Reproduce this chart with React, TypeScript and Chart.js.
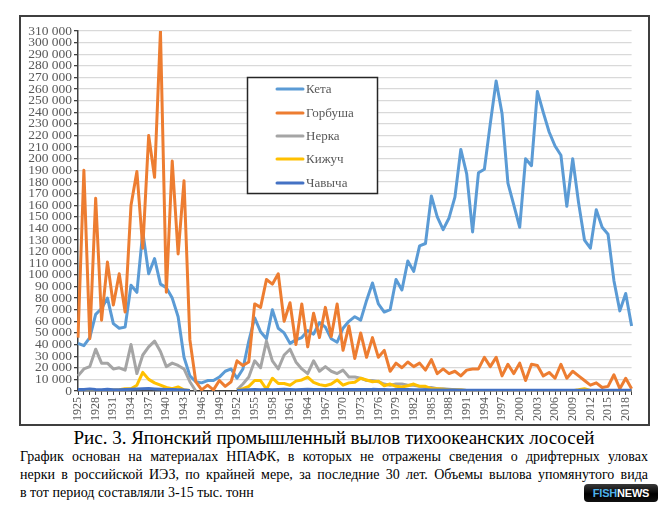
import React, { useEffect, useRef } from 'react';
import { Chart, registerables } from 'chart.js';

Chart.register(...registerables);

const years: number[] = [
  1925, 1926, 1927, 1928, 1929, 1930, 1931, 1932, 1933, 1934,
  1935, 1936, 1937, 1938, 1939, 1940, 1941, 1942, 1943, 1944,
  1945, 1946, 1947, 1948, 1949, 1950, 1951, 1952, 1953, 1954,
  1955, 1956, 1957, 1958, 1959, 1960, 1961, 1962, 1963, 1964,
  1965, 1966, 1967, 1968, 1969, 1970, 1971, 1972, 1973, 1974,
  1975, 1976, 1977, 1978, 1979, 1980, 1981, 1982, 1983, 1984,
  1985, 1986, 1987, 1988, 1989, 1990, 1991, 1992, 1993, 1994,
  1995, 1996, 1997, 1998, 1999, 2000, 2001, 2002, 2003, 2004,
  2005, 2006, 2007, 2008, 2009, 2010, 2011, 2012, 2013, 2014,
  2015, 2016, 2017, 2018, 2019,
];

const seriesNames: string[] = ['Кета', 'Горбуша', 'Нерка', 'Кижуч', 'Чавыча'];
const seriesColors: string[] = ['#5B9BD5', '#ED7D31', '#A5A5A5', '#FFC000', '#4472C4'];

const keta: (number | null)[] = [
  41000, 39000, 46000, 66000, 71000, 80000, 58000, 54000, 55000, 91000,
  85000, 137000, 101000, 114000, 92000, 89000, 80000, 64000, 29000, 13000,
  8000, 7000, 9000, 9000, 12000, 17000, 19000, 11000, 19000, 43000,
  63000, 51000, 45000, 70000, 54000, 50000, 41000, 44000, 46000, 52000,
  49000, 59000, 55000, 45000, 42000, 54000, 60000, 64000, 61000, 78000,
  93000, 75000, 68000, 70000, 96000, 87000, 112000, 103000, 125000, 127000,
  168000, 150000, 139000, 149000, 167000, 208000, 187000, 137000, 188000, 191000,
  230000, 267000, 239000, 179000, 160000, 141000, 200000, 194000, 258000, 240000,
  223000, 211000, 203000, 159000, 200000, 162000, 130000, 123000, 156000, 141000,
  135000, 95000, 69000, 84000, 56000,
];

const gorbusha: (number | null)[] = [
  46000, 190000, 45000, 166000, 61000, 111000, 74000, 101000, 68000, 160000,
  189000, 123000, 220000, 184000, 310000, 85000, 198000, 118000, 181000, 44000,
  8000, 1000, 5000, 1000, 9000, 4000, 8000, 26000, 22000, 25000,
  75000, 72000, 96000, 92000, 101000, 60000, 76000, 40000, 75000, 38000,
  67000, 46000, 72000, 47000, 75000, 35000, 56000, 28000, 50000, 29000,
  46000, 29000, 35000, 17000, 24000, 20000, 25000, 21000, 24000, 18000,
  27000, 15000, 19000, 15000, 17000, 13000, 18000, 19000, 19000, 29000,
  21000, 29000, 13000, 23000, 15000, 24000, 9000, 23000, 22000, 13000,
  16000, 11000, 23000, 11000, 17000, 13000, 9000, 5000, 7000, 3000,
  4000, 14000, 2000, 11000, 2000,
];

const nerka: (number | null)[] = [
  13000, 19000, 21000, 36000, 24000, 24000, 19000, 20000, 18000, 40000,
  15000, 31000, 38000, 43000, 34000, 21000, 24000, 22000, 19000, 8000,
  0, null, null, null, null, null, null, 1000, 6000, 12000,
  26000, 20000, 43000, 26000, 19000, 31000, 36000, 25000, 19000, 15000,
  26000, 17000, 21000, 17000, 15000, 18000, 12000, 12000, 11000, 9000,
  9000, 8000, 6000, 5000, 6000, 6000, 5000, 5000, 4000, 3000,
  3000, 2000, 2000, 1500, 1000, 1000, 500, 300, 300, 300,
  300, 300, 300, 300, 300, 300, 300, 300, 300, 300,
  300, 300, 300, 300, 300, 300, 300, 300, 300, 300,
  300, 300, 300, 300, 300,
];

const kizhuch: (number | null)[] = [
  500, 500, 500, 500, 500, 500, 800, 1000, 2000, 2000,
  5000, 16000, 10000, 7000, 5000, 3000, 2000, 3500, 1000, 500,
  null, null, null, null, null, null, null, 500, 2000, 4000,
  9000, 9000, 1500, 11000, 6500, 6500, 5000, 8500, 9500, 12000,
  7500, 5500, 4500, 6000, 9500, 5000, 7000, 7500, 11000, 9500,
  8000, 8500, 4500, 6000, 4000, 3500, 4500, 6000, 4000, 4000,
  2000, 2000, 1500, 1000, 800, 800, 500, 300, 300, 300,
  300, 300, 300, 300, 300, 300, 300, 300, 300, 300,
  300, 300, 300, 300, 300, 1000, 2000, 500, 300, 300,
  300, 300, 300, 300, 300,
];

const chavycha: (number | null)[] = [
  1200, 1300, 1800, 1300, 1000, 1500, 1000, 1000, 1200, 1500,
  1800, 2000, 2200, 1800, 1500, 1200, 1300, 1000, 800, 500,
  null, null, null, null, null, null, null, 500, 800, 1000,
  1200, 1000, 1200, 1000, 1200, 1500, 1200, 1000, 1200, 1500,
  1200, 1200, 1300, 1200, 1400, 1300, 1200, 1200, 1300, 1200,
  1400, 1300, 1200, 1100, 1200, 1300, 1200, 1100, 1000, 1000,
  900, 900, 800, 800, 800, 700, 700, 700, 600, 600,
  600, 600, 600, 600, 600, 600, 600, 600, 600, 600,
  600, 600, 600, 600, 600, 600, 600, 600, 600, 600,
  600, 600, 600, 600, 600,
];

const yTickMax = 310000;
const yTickStep = 10000;

const titleText = 'Рис. 3. Японский промышленный вылов тихоокеанских лососей';
const captionLines: string[] = [
  'График основан на материалах НПАФК, в которых не отражены сведения о дрифтерных уловах',
  'нерки в российской ИЭЗ, по крайней мере, за последние 30 лет. Объемы вылова упомянутого вида',
  'в тот период составляли 3-15 тыс. тонн',
];

const SERIF = '"Liberation Serif", "Times New Roman", serif';

function fmt(v: number): string {
  return String(v).replace(/\B(?=(\d{3})+(?!\d))/g, ' ');
}

const legendPlugin = {
  id: 'boxLegend',
  afterDatasetsDraw(chart: any) {
    const ctx = chart.ctx as CanvasRenderingContext2D;
    const bx = 226.5;
    const by = 60.5;
    const bw = 130;
    const bh = 116;
    ctx.save();
    ctx.fillStyle = '#ffffff';
    ctx.fillRect(bx, by, bw, bh);
    ctx.strokeStyle = '#262626';
    ctx.lineWidth = 1.5;
    ctx.strokeRect(bx, by, bw, bh);
    const rowY = [72, 96, 119, 142, 166];
    chart.data.datasets.forEach((ds: any, i: number) => {
      const y = rowY[i];
      ctx.strokeStyle = ds.borderColor;
      ctx.lineWidth = 3;
      ctx.lineCap = 'round';
      ctx.beginPath();
      ctx.moveTo(256, y);
      ctx.lineTo(282, y);
      ctx.stroke();
      ctx.fillStyle = '#595959';
      ctx.font = `13px ${SERIF}`;
      ctx.textBaseline = 'middle';
      ctx.textAlign = 'left';
      ctx.fillText(ds.label, 285, y + 0.5);
    });
    ctx.restore();
  },
};

export default function App() {
  const canvasRef = useRef<HTMLCanvasElement | null>(null);

  useEffect(() => {
    document.body.style.margin = '0';
    const canvas = canvasRef.current;
    if (!canvas) return;
    const allSeries = [keta, gorbusha, nerka, kizhuch, chavycha];
    const chart = new Chart(canvas, {
      type: 'line',
      data: {
        labels: years.map(String),
        datasets: allSeries.map((d, i) => ({
          label: seriesNames[i],
          data: d,
          borderColor: seriesColors[i],
          backgroundColor: seriesColors[i],
          borderWidth: 3,
          pointRadius: 0,
          pointHoverRadius: 0,
          tension: 0,
          spanGaps: false,
          fill: false,
          order: allSeries.length - i,
          borderJoinStyle: 'round' as const,
        })),
      },
      options: {
        responsive: false,
        animation: false,
        devicePixelRatio: 1,
        layout: { padding: { left: 0, right: 14, top: 14, bottom: 0 } },
        plugins: {
          legend: { display: false },
          tooltip: { enabled: false },
        },
        scales: {
          x: {
            type: 'category',
            offset: false,
            afterFit: (s: any) => {
              s.height = 33;
            },
            grid: {
              display: true,
              drawOnChartArea: false,
              drawTicks: true,
              tickLength: 4,
              tickColor: '#404040',
              lineWidth: 1,
              offset: false,
            },
            border: { display: true, color: '#404040', width: 1.5 },
            ticks: {
              autoSkip: false,
              maxRotation: 90,
              minRotation: 90,
              padding: 2,
              color: '#595959',
              font: { family: SERIF, size: 12 },
              callback: (_v: any, idx: number) =>
                (years[idx] - years[0]) % 3 === 0 ? String(years[idx]) : '',
            },
          },
          y: {
            min: 0,
            max: yTickMax,
            afterFit: (s: any) => {
              s.width = 57;
            },
            grid: {
              color: '#d9d9d9',
              lineWidth: 1.3,
              drawTicks: true,
              tickLength: 4,
              tickColor: '#404040',
            },
            border: { display: true, color: '#404040', width: 1.5 },
            ticks: {
              stepSize: yTickStep,
              autoSkip: false,
              padding: 2,
              color: '#595959',
              font: { family: SERIF, size: 13.5 },
              callback: (v: any) => fmt(Number(v)),
            },
          },
        },
      },
      plugins: [legendPlugin],
    } as any);
    return () => {
      chart.destroy();
    };
  }, []);

  return (
    <div
      style={{
        position: 'absolute',
        left: 0,
        top: 0,
        width: 668,
        height: 512,
        background: '#ffffff',
        fontFamily: SERIF,
        color: '#000',
        overflow: 'hidden',
      }}
    >
      <div
        style={{
          position: 'absolute',
          left: 19,
          top: 14.5,
          width: 631,
          height: 411.5,
          boxSizing: 'border-box',
          border: '2px solid #3f3f3f',
        }}
      />
      <canvas
        ref={canvasRef}
        width={627}
        height={407}
        style={{ position: 'absolute', left: 21, top: 17, width: 627, height: 407 }}
      />
      <div
        style={{
          position: 'absolute',
          left: 0,
          top: 428,
          width: 668,
          textAlign: 'center',
          fontSize: 19,
          lineHeight: '20px',
          whiteSpace: 'nowrap',
        }}
      >
        {titleText}
      </div>
      {captionLines.map((line, i) => (
        <div
          key={i}
          style={{
            position: 'absolute',
            left: 20,
            top: 448.3 + i * 18,
            width: 628,
            fontSize: 14,
            lineHeight: '18px',
            textAlign: 'justify',
            textAlignLast: i < captionLines.length - 1 ? 'justify' : 'left',
            whiteSpace: 'nowrap',
          } as React.CSSProperties}
        >
          {line}
        </div>
      ))}
      <div
        style={{
          position: 'absolute',
          left: 584,
          top: 484,
          width: 74,
          height: 18,
          borderRadius: 4,
          background: 'linear-gradient(#3a3a3a, #000000 55%, #111111)',
          display: 'flex',
          alignItems: 'center',
          justifyContent: 'center',
          fontFamily: '"Liberation Sans", Arial, sans-serif',
          fontWeight: 700,
          fontSize: 11,
          letterSpacing: -0.2,
          lineHeight: '18px',
        }}
      >
        <span style={{ color: '#4fb2ea' }}>FISH</span>
        <span style={{ color: '#ffffff' }}>NEWS</span>
      </div>
    </div>
  );
}
